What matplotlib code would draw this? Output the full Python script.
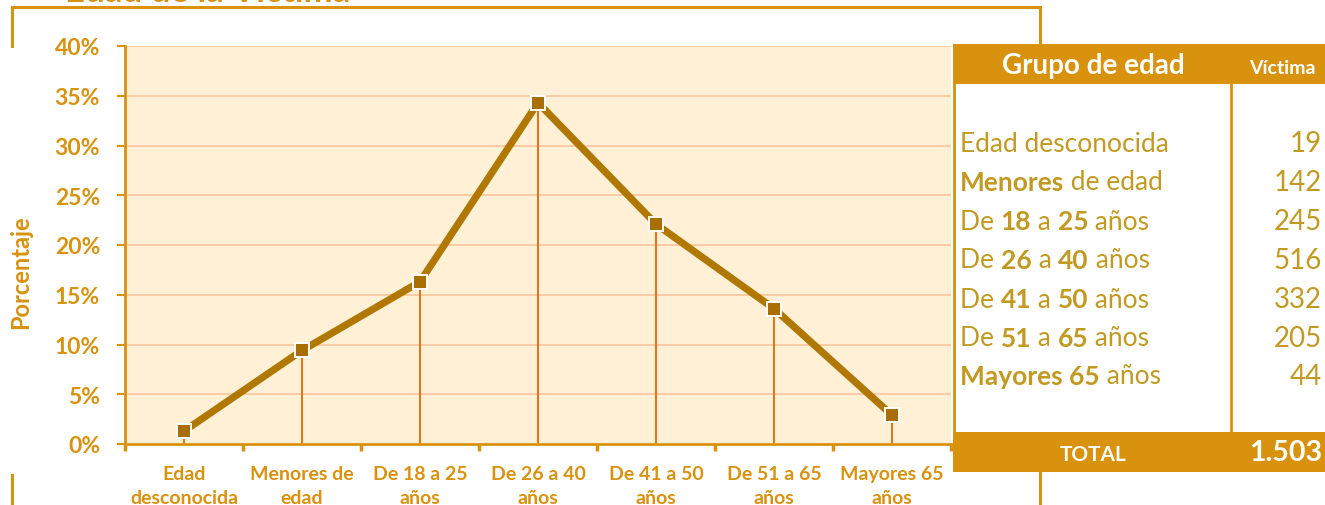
import matplotlib
matplotlib.use("Agg")
import matplotlib.pyplot as plt
import numpy as np
from matplotlib.patches import Rectangle
from matplotlib.lines import Line2D

plt.rcParams['font.family'] = ['Lato', 'DejaVu Sans']

grupos = ["Edad\ndesconocida", "Menores de\nedad", "De 18 a 25\naños", "De 26 a 40\naños",
          "De 41 a 50\naños", "De 51 a 65\naños", "Mayores 65\naños"]
porcentaje = [1.3, 9.4, 16.3, 34.3, 22.1, 13.6, 2.9]
yticks = [0, 5, 10, 15, 20, 25, 30, 35, 40]

# table rows: list of (text, bold) pieces
filas = [
    [("Edad desconocida", False)],
    [("Menores", True), (" de edad", False)],
    [("De ", False), ("18", True), (" a ", False), ("25", True), (" años", False)],
    [("De ", False), ("26", True), (" a ", False), ("40", True), (" años", False)],
    [("De ", False), ("41", True), (" a ", False), ("50", True), (" años", False)],
    [("De ", False), ("51", True), (" a ", False), ("65", True), (" años", False)],
    [("Mayores 65", True), (" años", False)],
]
victimas = ["19", "142", "245", "516", "332", "205", "44"]
total = "1.503"

W, H = 1325, 506
gold = '#D8920E'
dark = '#B07800'
txt = '#C29A22'

fig = plt.figure(figsize=(W / 100, H / 100), dpi=100)

def fx(px):
    return px / W

def fy(py):
    return 1 - py / H

# outer frame (partially covered)
fig.add_artist(Line2D([fx(12), fx(1040)], [fy(8), fy(8)], color=gold, lw=2.2))
fig.add_artist(Line2D([fx(12), fx(12)], [fy(8), fy(47)], color=gold, lw=2.2))
fig.add_artist(Line2D([fx(12), fx(12)], [fy(476), fy(506)], color=gold, lw=2.2))
fig.add_artist(Line2D([fx(1040), fx(1040)], [fy(8), fy(47)], color=gold, lw=2.2))
fig.add_artist(Line2D([fx(1040), fx(1040)], [fy(470), fy(506)], color=gold, lw=2.2))
fig.text(fx(65), fy(2), "Edad de la Víctima", color=gold, fontsize=25, fontweight='bold',
         va='baseline', ha='left')

ax = fig.add_axes([fx(125), fy(445), fx(951 - 125), (445 - 47) / H])
ax.set_facecolor('#FFF0D6')
x = np.arange(len(grupos))
for yv in yticks[1:]:
    ax.axhline(yv, color='#FCC9A0', lw=1.3, zorder=1)
ax.vlines(x, 0, porcentaje, color='#E8700F', lw=1.4, zorder=2)
ax.plot(x, porcentaje, color=dark, lw=5.2, zorder=3, solid_capstyle='butt')
ax.plot(x, porcentaje, ls='none', marker='s', ms=9.5, mfc='#A86F00', mec='white', mew=1.4, zorder=4)

ax.set_xlim(-0.5, len(grupos) - 0.5)
ax.set_ylim(0, 40)
ax.set_yticks(yticks)
ax.set_yticklabels([f"{v}%" for v in yticks], fontsize=16.5, fontweight='bold', color=gold)
ax.set_xticks(x)
ax.set_xticklabels(grupos, fontsize=14, fontweight='bold', color=gold, linespacing=1.5)
ax.set_xticks(np.arange(-0.5, len(grupos)), minor=True)
ax.tick_params(axis='x', which='major', length=0, pad=15)
ax.tick_params(axis='x', which='minor', length=5, width=2.5, color=gold, direction='out')
ax.tick_params(axis='y', length=6, width=1.5, color=gold, pad=12)
for s in ['top', 'right']:
    ax.spines[s].set_visible(False)
for s in ['left', 'bottom']:
    ax.spines[s].set_color(gold)
    ax.spines[s].set_linewidth(2)
ax.set_ylabel("Porcentaje", fontsize=17, fontweight='bold', color=gold)
ax.yaxis.set_label_coords(-0.112, 0.435)

# table on the right
fig.add_artist(Rectangle((fx(953), fy(473)), fx(1325 - 953), (473 - 45) / H,
                         facecolor='white', edgecolor='none', zorder=5))
fig.add_artist(Rectangle((fx(953), fy(85)), fx(1325 - 953), 40 / H,
                         facecolor=gold, edgecolor='none', zorder=6))
fig.add_artist(Rectangle((fx(953), fy(473)), fx(1325 - 953), 40 / H,
                         facecolor=gold, edgecolor='none', zorder=6))
fig.add_artist(Line2D([fx(954), fx(954)], [fy(85), fy(433)], color=gold, lw=2, zorder=6))
fig.add_artist(Line2D([fx(1231), fx(1231)], [fy(85), fy(433)], color=gold, lw=2, zorder=6))

fig.text(fx(1093), fy(66), "Grupo de edad", color='white', fontsize=20, fontweight='bold',
         ha='center', va='center', zorder=7)
fig.text(fx(1282), fy(69), "Víctima", color='white', fontsize=14, fontweight='bold',
         ha='center', va='center', zorder=7)
fig.text(fx(1093), fy(455), "TOTAL", color='white', fontsize=15, fontweight='bold',
         ha='center', va='center', zorder=7)
fig.text(fx(1322), fy(453), total, color='white', fontsize=20.5, fontweight='bold',
         ha='right', va='center', zorder=7)

renderer = fig.canvas.get_renderer()
row_y = [144, 183, 222, 261, 300, 339, 377]
for piezas, v, yy in zip(filas, victimas, row_y):
    xpos = 960
    for s, b in piezas:
        t = fig.text(fx(xpos), fy(yy), s, color=txt, fontsize=19,
                     fontweight='bold' if b else 'normal', ha='left', va='center', zorder=7)
        bb = t.get_window_extent(renderer=renderer)
        xpos += bb.width
    fig.text(fx(1322), fy(yy), v, color=txt, fontsize=20, ha='right', va='center', zorder=7)

fig.savefig("out.png", dpi=100)
